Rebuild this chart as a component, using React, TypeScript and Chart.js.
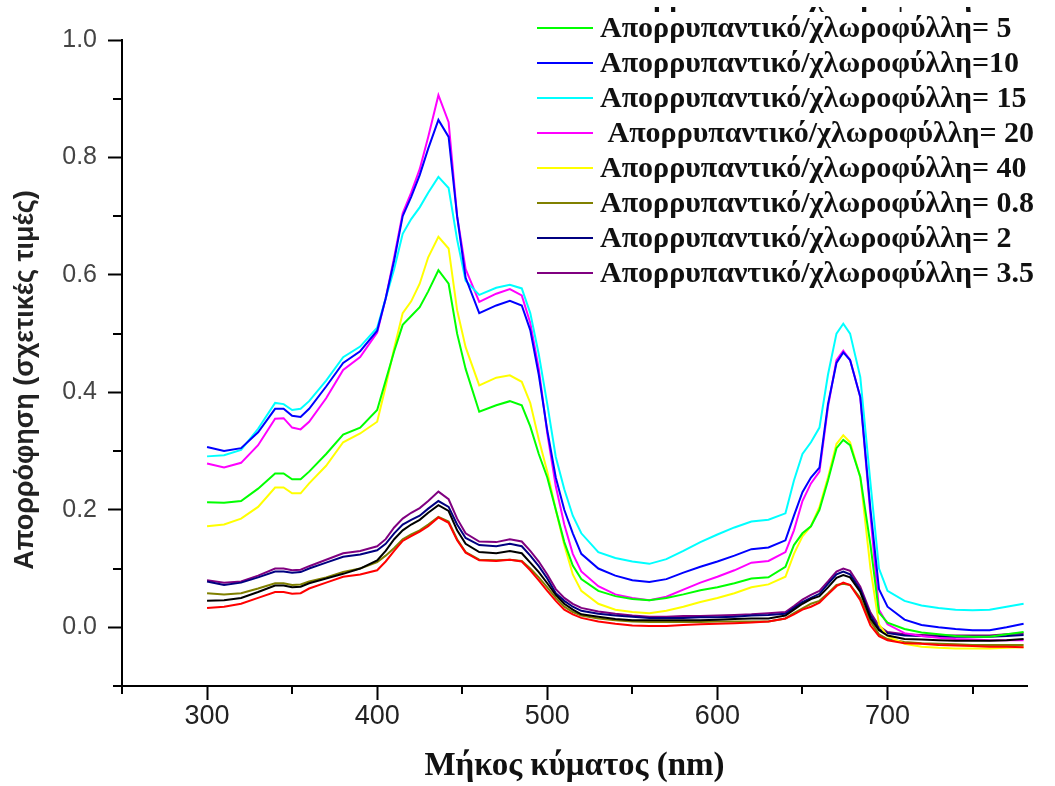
import React, { useEffect, useRef } from "react";
import { Chart, registerables } from "chart.js";

Chart.register(...registerables);

// ---------- DATA ----------
const WAVELENGTHS = [
  300, 310, 320, 330, 340, 345, 350, 355, 360, 370, 380, 390, 400, 405, 410, 415,
  420, 425, 430, 436, 442, 447, 452, 460, 470, 478, 485, 490, 495, 500, 505, 510,
  515, 520, 530, 540, 550, 560, 570, 580, 590, 600, 610, 620, 630, 640, 645, 650,
  655, 660, 665, 670, 674, 678, 684, 690, 695, 700, 710, 720, 730, 740, 750, 760,
  770, 780,
];

const RED_VALUES = [
  0.033, 0.035, 0.04, 0.05, 0.06, 0.06, 0.057, 0.058, 0.066, 0.076, 0.086, 0.09, 0.097, 0.112, 0.13, 0.147,
  0.155, 0.163, 0.172, 0.187, 0.178, 0.148, 0.127, 0.114, 0.113, 0.115, 0.112, 0.097, 0.08, 0.062, 0.045, 0.03,
  0.022, 0.016, 0.01, 0.006, 0.003, 0.002, 0.002, 0.004, 0.005, 0.006, 0.007, 0.008, 0.01, 0.015, 0.022, 0.03,
  0.035, 0.042, 0.056, 0.07, 0.076, 0.072, 0.046, 0.003, -0.015, -0.022, -0.027, -0.028, -0.03, -0.031, -0.032, -0.033,
  -0.033, -0.034,
];

const BLACK_VALUES = [
  0.045, 0.046, 0.05, 0.06, 0.071, 0.071, 0.068, 0.069, 0.075, 0.083, 0.091, 0.1, 0.114, 0.13, 0.15, 0.165,
  0.175, 0.183, 0.195, 0.208, 0.198, 0.165, 0.142, 0.128, 0.126, 0.13, 0.126, 0.11, 0.094, 0.075, 0.055, 0.04,
  0.03, 0.022, 0.018, 0.014, 0.012, 0.012, 0.012, 0.012, 0.012, 0.013, 0.014, 0.015, 0.015, 0.02, 0.03, 0.04,
  0.048, 0.053, 0.068, 0.084, 0.089, 0.085, 0.06, 0.015, -0.005, -0.014, -0.02, -0.021, -0.022, -0.023, -0.023, -0.023,
  -0.022, -0.02,
];

const GREEN_VALUES = [
  0.213, 0.212, 0.215, 0.236, 0.262, 0.262, 0.252, 0.252, 0.265, 0.295, 0.328, 0.34, 0.37, 0.42, 0.47, 0.515,
  0.53, 0.545, 0.572, 0.608, 0.585, 0.5, 0.44, 0.367, 0.378, 0.385, 0.378, 0.342, 0.295, 0.255, 0.2, 0.145,
  0.105, 0.082, 0.062, 0.053, 0.048, 0.046, 0.05, 0.056, 0.063, 0.068, 0.075, 0.083, 0.085, 0.103, 0.14, 0.16,
  0.172, 0.2, 0.25, 0.305, 0.319, 0.31, 0.256, 0.14, 0.025, 0.008, -0.003, -0.009, -0.012, -0.015, -0.016, -0.016,
  -0.012, -0.008,
];

const BLUE_VALUES = [
  0.307, 0.3, 0.305, 0.332, 0.372, 0.372, 0.36, 0.358, 0.372, 0.41, 0.45, 0.47, 0.505, 0.56, 0.625, 0.7,
  0.733, 0.77, 0.815, 0.864, 0.835, 0.7, 0.595, 0.535, 0.548, 0.556, 0.548, 0.506, 0.43, 0.335, 0.255, 0.2,
  0.16, 0.125, 0.1, 0.088, 0.08, 0.077, 0.082, 0.093, 0.103, 0.112, 0.122, 0.133, 0.136, 0.148, 0.19, 0.23,
  0.255, 0.272, 0.38, 0.45, 0.468, 0.455, 0.392, 0.2, 0.065, 0.035, 0.013, 0.004, 0.0, -0.003, -0.005, -0.005,
  0.0, 0.006,
];

const CYAN_VALUES = [
  0.291, 0.293, 0.302, 0.338, 0.382, 0.38, 0.37, 0.372, 0.385, 0.42, 0.46, 0.478, 0.51, 0.56, 0.61, 0.67,
  0.695, 0.715, 0.74, 0.767, 0.748, 0.66, 0.59, 0.566, 0.578, 0.583, 0.577, 0.535, 0.465, 0.38, 0.29, 0.235,
  0.19, 0.16, 0.128, 0.118, 0.112, 0.108, 0.116, 0.13, 0.145, 0.158, 0.17, 0.18, 0.183, 0.194, 0.25, 0.295,
  0.315, 0.34, 0.43, 0.5, 0.517, 0.5, 0.426, 0.245, 0.1, 0.062, 0.045, 0.037, 0.033, 0.03, 0.029, 0.03,
  0.035, 0.04,
];

const MAGENTA_VALUES = [
  0.279, 0.272, 0.28, 0.31, 0.355, 0.356, 0.34, 0.337, 0.35, 0.39, 0.438, 0.46, 0.502, 0.56, 0.63, 0.705,
  0.74, 0.78, 0.835, 0.906, 0.86, 0.7, 0.61, 0.554, 0.568, 0.576, 0.565, 0.518, 0.44, 0.33, 0.24, 0.175,
  0.125, 0.095, 0.07, 0.056, 0.05, 0.046, 0.052, 0.064, 0.076, 0.086, 0.097, 0.11, 0.113, 0.128, 0.165, 0.215,
  0.245, 0.265, 0.375, 0.455, 0.471, 0.455, 0.392, 0.19, 0.03, 0.005, -0.01, -0.015, -0.018, -0.02, -0.021, -0.022,
  -0.022, -0.022,
];

const YELLOW_VALUES = [
  0.172, 0.175, 0.185, 0.205, 0.238, 0.238, 0.228, 0.228, 0.245, 0.275, 0.315, 0.33, 0.35, 0.41, 0.475, 0.535,
  0.555, 0.585, 0.63, 0.665, 0.645, 0.54, 0.477, 0.412, 0.425, 0.429, 0.418, 0.382, 0.32, 0.265, 0.2, 0.14,
  0.09, 0.062, 0.04, 0.03, 0.026, 0.024, 0.028, 0.035, 0.043, 0.05, 0.058, 0.068, 0.073, 0.086, 0.125, 0.155,
  0.172, 0.205, 0.255, 0.312, 0.327, 0.315, 0.256, 0.1, 0.005, -0.015, -0.028, -0.033, -0.035, -0.036, -0.036, -0.036,
  -0.035, -0.034,
];

const OLIVE_VALUES = [
  0.058, 0.056, 0.058, 0.066, 0.075, 0.075, 0.072, 0.073, 0.078, 0.085, 0.094, 0.1, 0.111, 0.122, 0.135, 0.15,
  0.158, 0.165, 0.175, 0.188, 0.18, 0.15, 0.128, 0.115, 0.114, 0.115, 0.113, 0.1, 0.085, 0.068, 0.05, 0.035,
  0.026, 0.02, 0.015, 0.012, 0.01, 0.009, 0.009, 0.009, 0.009, 0.01, 0.01, 0.01, 0.01, 0.015, 0.024, 0.032,
  0.04, 0.045, 0.058, 0.072, 0.074, 0.072, 0.05, 0.01, -0.012, -0.02, -0.025, -0.027, -0.028, -0.029, -0.03, -0.03,
  -0.03, -0.03,
];

const NAVY_VALUES = [
  0.078, 0.072, 0.076, 0.085, 0.095, 0.095, 0.093, 0.094, 0.1, 0.11, 0.12, 0.124, 0.131, 0.142, 0.16, 0.175,
  0.183, 0.19, 0.202, 0.215, 0.205, 0.175, 0.152, 0.14, 0.138, 0.142, 0.138, 0.122, 0.104, 0.083, 0.058, 0.045,
  0.035, 0.028, 0.023, 0.02, 0.018, 0.016, 0.016, 0.016, 0.017, 0.017, 0.018, 0.02, 0.021, 0.023, 0.033, 0.043,
  0.05, 0.057, 0.074, 0.09, 0.095, 0.09, 0.064, 0.02, -0.003, -0.01, -0.014, -0.015, -0.016, -0.016, -0.016, -0.016,
  -0.015, -0.013,
];

const PURPLE_VALUES = [
  0.08, 0.076, 0.078, 0.088, 0.1, 0.1, 0.097, 0.098, 0.104, 0.115, 0.126, 0.13, 0.138, 0.15, 0.17, 0.185,
  0.195, 0.203, 0.215, 0.231, 0.218, 0.185, 0.16, 0.146, 0.145, 0.15, 0.146, 0.13, 0.112, 0.09, 0.065, 0.05,
  0.04, 0.033, 0.027, 0.023, 0.02, 0.018, 0.018, 0.019, 0.019, 0.02, 0.021, 0.022, 0.024, 0.026, 0.036, 0.047,
  0.055, 0.062, 0.078, 0.095, 0.1, 0.096, 0.069, 0.025, 0.002, -0.008, -0.012, -0.013, -0.014, -0.014, -0.014, -0.014,
  -0.012, -0.01,
];

const SERIES_LABELS = [
  "Απορρυπαντικό/χλωροφύλλη= 0",
  "Απορρυπαντικό/χλωροφύλλη= 0.4",
  "Απορρυπαντικό/χλωροφύλλη= 5",
  "Απορρυπαντικό/χλωροφύλλη=10",
  "Απορρυπαντικό/χλωροφύλλη= 15",
  " Απορρυπαντικό/χλωροφύλλη= 20",
  "Απορρυπαντικό/χλωροφύλλη= 40",
  "Απορρυπαντικό/χλωροφύλλη= 0.8",
  "Απορρυπαντικό/χλωροφύλλη= 2",
  "Απορρυπαντικό/χλωροφύλλη= 3.5",
];

const SERIES_VALUES = [
  RED_VALUES,
  BLACK_VALUES,
  GREEN_VALUES,
  BLUE_VALUES,
  CYAN_VALUES,
  MAGENTA_VALUES,
  YELLOW_VALUES,
  OLIVE_VALUES,
  NAVY_VALUES,
  PURPLE_VALUES,
];

const SERIES_COLORS = [
  "#ff0000",
  "#000000",
  "#00ff00",
  "#0000ff",
  "#00ffff",
  "#ff00ff",
  "#ffff00",
  "#808000",
  "#000080",
  "#800080",
];

const X_TICKS = [300, 400, 500, 600, 700];
const X_MINOR_TICKS = [250, 350, 450, 550, 650, 750];
const Y_TICKS = [0, 0.2, 0.4, 0.6, 0.8, 1.0];
const Y_MINOR_TICKS = [-0.1, 0.1, 0.3, 0.5, 0.7, 0.9];

const X_TITLE = "Μήκος κύματος (nm)";
const Y_TITLE = "Απορρόφηση (σχετικές τιμές)";

// ---------- PLUGINS ----------
const axisExtrasPlugin = {
  id: "axisExtras",
  afterDraw(chart: any) {
    const { ctx, chartArea } = chart;
    const xs = chart.scales.x;
    const ys = chart.scales.y;
    ctx.save();
    ctx.strokeStyle = "#000";
    ctx.lineWidth = 2;
    ctx.beginPath();
    X_MINOR_TICKS.forEach((v) => {
      const px = Math.round(xs.getPixelForValue(v));
      ctx.moveTo(px, chartArea.bottom);
      ctx.lineTo(px, chartArea.bottom + 8);
    });
    Y_MINOR_TICKS.forEach((v) => {
      const py = Math.round(ys.getPixelForValue(v));
      ctx.moveTo(chartArea.left - 9, py);
      ctx.lineTo(chartArea.left, py);
    });
    ctx.stroke();

    ctx.fillStyle = "#111";
    ctx.textAlign = "center";
    ctx.textBaseline = "middle";
    ctx.font = 'bold 33px "Liberation Serif", serif';
    ctx.fillText(X_TITLE, (chartArea.left + chartArea.right) / 2, 766);

    ctx.translate(26, 380);
    ctx.rotate(-Math.PI / 2);
    ctx.font = 'bold 27px "Liberation Sans", sans-serif';
    ctx.fillStyle = "#222";
    ctx.fillText(Y_TITLE, 0, 0);
    ctx.restore();
  },
};

const sideLegendPlugin = {
  id: "sideLegend",
  afterDraw(chart: any) {
    const ctx = chart.ctx;
    ctx.save();
    chart.data.datasets.forEach((ds: any, i: number) => {
      const visibleRow = i - 2;
      ctx.save();
      let baseline: number;
      let rowY: number;
      if (visibleRow < 0) {
        // rows cut off by the top edge of the picture: only descenders remain
        ctx.beginPath();
        ctx.rect(0, 7, chart.width, 10);
        ctx.clip();
        baseline = 6 + (visibleRow + 1) * 35;
        rowY = baseline - 9;
      } else {
        rowY = 28 + visibleRow * 35;
        baseline = rowY + 9;
      }
      ctx.strokeStyle = ds.borderColor;
      ctx.lineWidth = 2;
      ctx.beginPath();
      ctx.moveTo(537, rowY);
      ctx.lineTo(593, rowY);
      ctx.stroke();
      ctx.fillStyle = "#111";
      ctx.font = 'bold 30px "Liberation Serif", serif';
      ctx.textAlign = "left";
      ctx.textBaseline = "alphabetic";
      ctx.fillText(ds.label, 600, baseline);
      ctx.restore();
    });
    ctx.restore();
  },
};

export default function App() {
  const canvasRef = useRef<HTMLCanvasElement | null>(null);

  useEffect(() => {
    if (!canvasRef.current) return;
    const datasets = SERIES_VALUES.map((vals, s) => ({
      label: SERIES_LABELS[s],
      data: WAVELENGTHS.map((w, i) => ({ x: w, y: vals[i] })),
      borderColor: SERIES_COLORS[s],
      backgroundColor: SERIES_COLORS[s],
      borderWidth: 2,
      pointRadius: 0,
      tension: 0,
      fill: false,
    }));

    const chart = new Chart(canvasRef.current, {
      type: "line",
      data: { datasets },
      options: {
        animation: false,
        responsive: false,
        maintainAspectRatio: false,
        layout: { padding: { top: 40, right: 28, left: 0, bottom: 0 } },
        plugins: {
          legend: { display: false },
          tooltip: { enabled: false },
          title: { display: false },
        },
        scales: {
          x: {
            type: "linear",
            min: 250,
            max: 782,
            afterBuildTicks: (axis: any) => {
              axis.ticks = X_TICKS.map((value) => ({ value }));
            },
            afterFit: (scale: any) => {
              scale.height = 100;
            },
            grid: {
              drawOnChartArea: false,
              drawTicks: true,
              tickLength: 14,
              tickWidth: 2,
              tickColor: "#000",
            },
            border: { display: true, color: "#000", width: 2 },
            ticks: {
              autoSkip: false,
              maxRotation: 0,
              padding: 0,
              color: "#222",
              font: { family: "Liberation Sans", size: 27 },
              callback: (v: any) => String(v),
            },
          },
          y: {
            type: "linear",
            min: -0.1,
            max: 1.0,
            afterBuildTicks: (axis: any) => {
              axis.ticks = Y_TICKS.map((value) => ({ value }));
            },
            afterFit: (scale: any) => {
              scale.width = 122;
            },
            grid: {
              drawOnChartArea: false,
              drawTicks: true,
              tickLength: 14,
              tickWidth: 2,
              tickColor: "#000",
            },
            border: { display: true, color: "#000", width: 2 },
            ticks: {
              autoSkip: false,
              padding: 11,
              color: "#444",
              font: { family: "Liberation Sans", size: 25 },
              callback: (v: any) => Number(v).toFixed(1),
            },
          },
        },
      },
      plugins: [axisExtrasPlugin, sideLegendPlugin],
    });

    return () => chart.destroy();
  }, []);

  return (
    <div
      style={{
        position: "fixed",
        left: 0,
        top: 0,
        width: 1055,
        height: 786,
        background: "#fff",
      }}
    >
      <canvas ref={canvasRef} width={1055} height={786} style={{ display: "block" }} />
    </div>
  );
}
